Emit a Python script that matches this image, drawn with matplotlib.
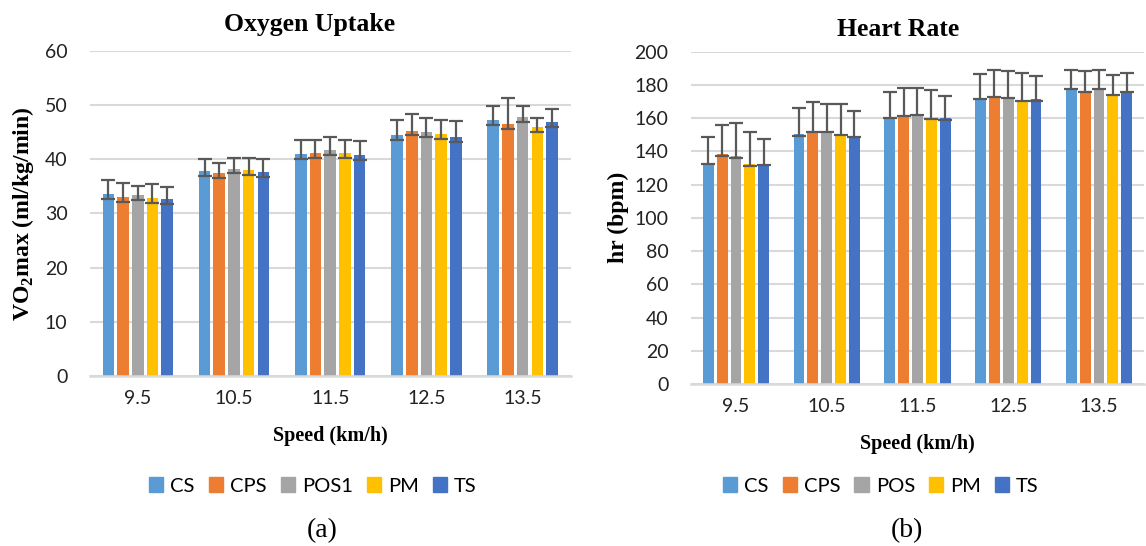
import matplotlib
matplotlib.use("Agg")
import matplotlib.pyplot as plt
import numpy as np
from matplotlib.patches import Patch

plt.rcParams['mathtext.fontset'] = 'custom'
plt.rcParams['mathtext.rm'] = 'Liberation Serif'
plt.rcParams['mathtext.bf'] = 'Liberation Serif:bold'

speeds = ['9.5', '10.5', '11.5', '12.5', '13.5']
colors = ['#5B9BD5', '#ED7D31', '#A5A5A5', '#FFC000', '#4472C4']

# oxygen uptake (ml/kg/min), mean and upper error end
vo2_groups = ['CS', 'CPS', 'POS1', 'PM', 'TS']
vo2_mean = {
    'CS':   [33.6, 37.8, 41.0, 44.5, 47.3],
    'CPS':  [33.1, 37.5, 41.2, 45.3, 46.5],
    'POS1': [33.4, 38.3, 41.7, 45.1, 47.8],
    'PM':   [32.9, 38.0, 41.2, 44.6, 46.0],
    'TS':   [32.7, 37.7, 40.8, 44.1, 46.8],
}
vo2_upper = {
    'CS':   [36.2, 40.1, 43.5, 47.2, 49.8],
    'CPS':  [35.7, 39.4, 43.6, 48.3, 51.4],
    'POS1': [35.0, 40.3, 44.2, 47.7, 49.9],
    'PM':   [35.5, 40.3, 43.6, 47.2, 47.6],
    'TS':   [34.8, 40.1, 43.3, 47.1, 49.3],
}
vo2_lower_err = 0.9

# heart rate (bpm)
hr_groups = ['CS', 'CPS', 'POS', 'PM', 'TS']
hr_mean = {
    'CS':  [133.2, 150.3, 160.9, 172.3, 178.3],
    'CPS': [138.2, 152.5, 162.1, 173.5, 176.5],
    'POS': [137.0, 152.5, 162.5, 172.7, 178.1],
    'PM':  [132.2, 150.7, 160.3, 171.1, 174.5],
    'TS':  [132.4, 149.2, 159.9, 171.3, 176.5],
}
hr_upper = {
    'CS':  [148.6, 166.1, 175.7, 186.4, 189.0],
    'CPS': [155.9, 169.7, 178.3, 189.2, 188.2],
    'POS': [157.1, 168.7, 178.3, 188.6, 189.0],
    'PM':  [151.7, 168.5, 176.7, 187.2, 185.8],
    'TS':  [147.4, 164.3, 173.3, 185.2, 187.0],
}
hr_lower_err = 0.8

SERIF = 'Liberation Serif'
SANS = 'Lato'


def draw_panel(ax, groups, means, uppers, lower_err, ymax, ystep, ylabel):
    x = np.arange(len(speeds))
    step = 0.153
    width = 0.12
    for i, (g, c) in enumerate(zip(groups, colors)):
        xs = x + (i - 2) * step
        m = np.array(means[g])
        up = np.array(uppers[g]) - m
        ax.bar(xs, m, width=width, color=c, zorder=2)
        ax.errorbar(xs, m, yerr=[np.full_like(m, lower_err), up], fmt='none',
                    ecolor='#595959', elinewidth=1.6, capsize=5, capthick=1.6, zorder=3)
    ax.set_xlim(-0.5, len(speeds) - 0.5)
    ax.set_ylim(0, ymax)
    ax.set_yticks(np.arange(0, ymax + 1, ystep))
    ax.set_xticks(x)
    ax.set_xticklabels(speeds)
    ax.yaxis.grid(True, color='#D9D9D9', linewidth=1.5, zorder=0)
    ax.set_axisbelow(True)
    for s in ['top', 'right', 'left']:
        ax.spines[s].set_visible(False)
    ax.spines['bottom'].set_color('#D9D9D9')
    ax.spines['bottom'].set_linewidth(1.8)
    ax.tick_params(length=0, labelsize=14, labelcolor='#222222')
    ax.tick_params(axis='x', pad=10)
    ax.tick_params(axis='y', pad=16)
    for lab in ax.get_xticklabels() + ax.get_yticklabels():
        lab.set_family(SANS)
    ax.set_ylabel(ylabel, family=SERIF, fontweight='bold', fontsize=17)
    ax.set_xlabel('Speed (km/h)', family=SERIF, fontweight='bold', fontsize=14.5, labelpad=14)
    handles = [Patch(color=c, label=g) for g, c in zip(groups, colors)]
    return handles


fig = plt.figure(figsize=(11.46, 5.46), dpi=100)
ax1 = fig.add_axes([0.0782, 0.3114, 0.4199, 0.5952])
ax2 = fig.add_axes([0.6026, 0.2967, 0.3960, 0.6086])

h1 = draw_panel(ax1, vo2_groups, vo2_mean, vo2_upper, vo2_lower_err, 60, 10,
                r'VO$_\mathbf{2}$max (ml/kg/min)')
h2 = draw_panel(ax2, hr_groups, hr_mean, hr_upper, hr_lower_err, 200, 20,
                'hr (bpm)')

ax1.yaxis.set_label_coords(-0.112, 0.5)
ax2.yaxis.set_label_coords(-0.135, 0.5)

fig.text(310 / 1146, 1 - 25 / 546, 'Oxygen Uptake', family=SERIF, fontweight='bold',
         fontsize=18.5, ha='center', va='center')
fig.text(898 / 1146, 1 - 29 / 546, 'Heart Rate', family=SERIF, fontweight='bold',
         fontsize=18.5, ha='center', va='center')

for h, xc in [(h1, 313 / 1146), (h2, 881 / 1146)]:
    fig.legend(handles=h, loc='center', bbox_to_anchor=(xc, 1 - 486 / 546), ncol=5,
               frameon=False, prop={'family': SANS, 'size': 14.5},
               handlelength=0.7, handleheight=0.7, handletextpad=0.35, columnspacing=0.7)

fig.text(322 / 1146, 1 - 531 / 546, '(a)', family=SERIF, fontsize=20, ha='center', va='center')
fig.text(907 / 1146, 1 - 531 / 546, '(b)', family=SERIF, fontsize=20, ha='center', va='center')

fig.savefig('out.png', dpi=100)
